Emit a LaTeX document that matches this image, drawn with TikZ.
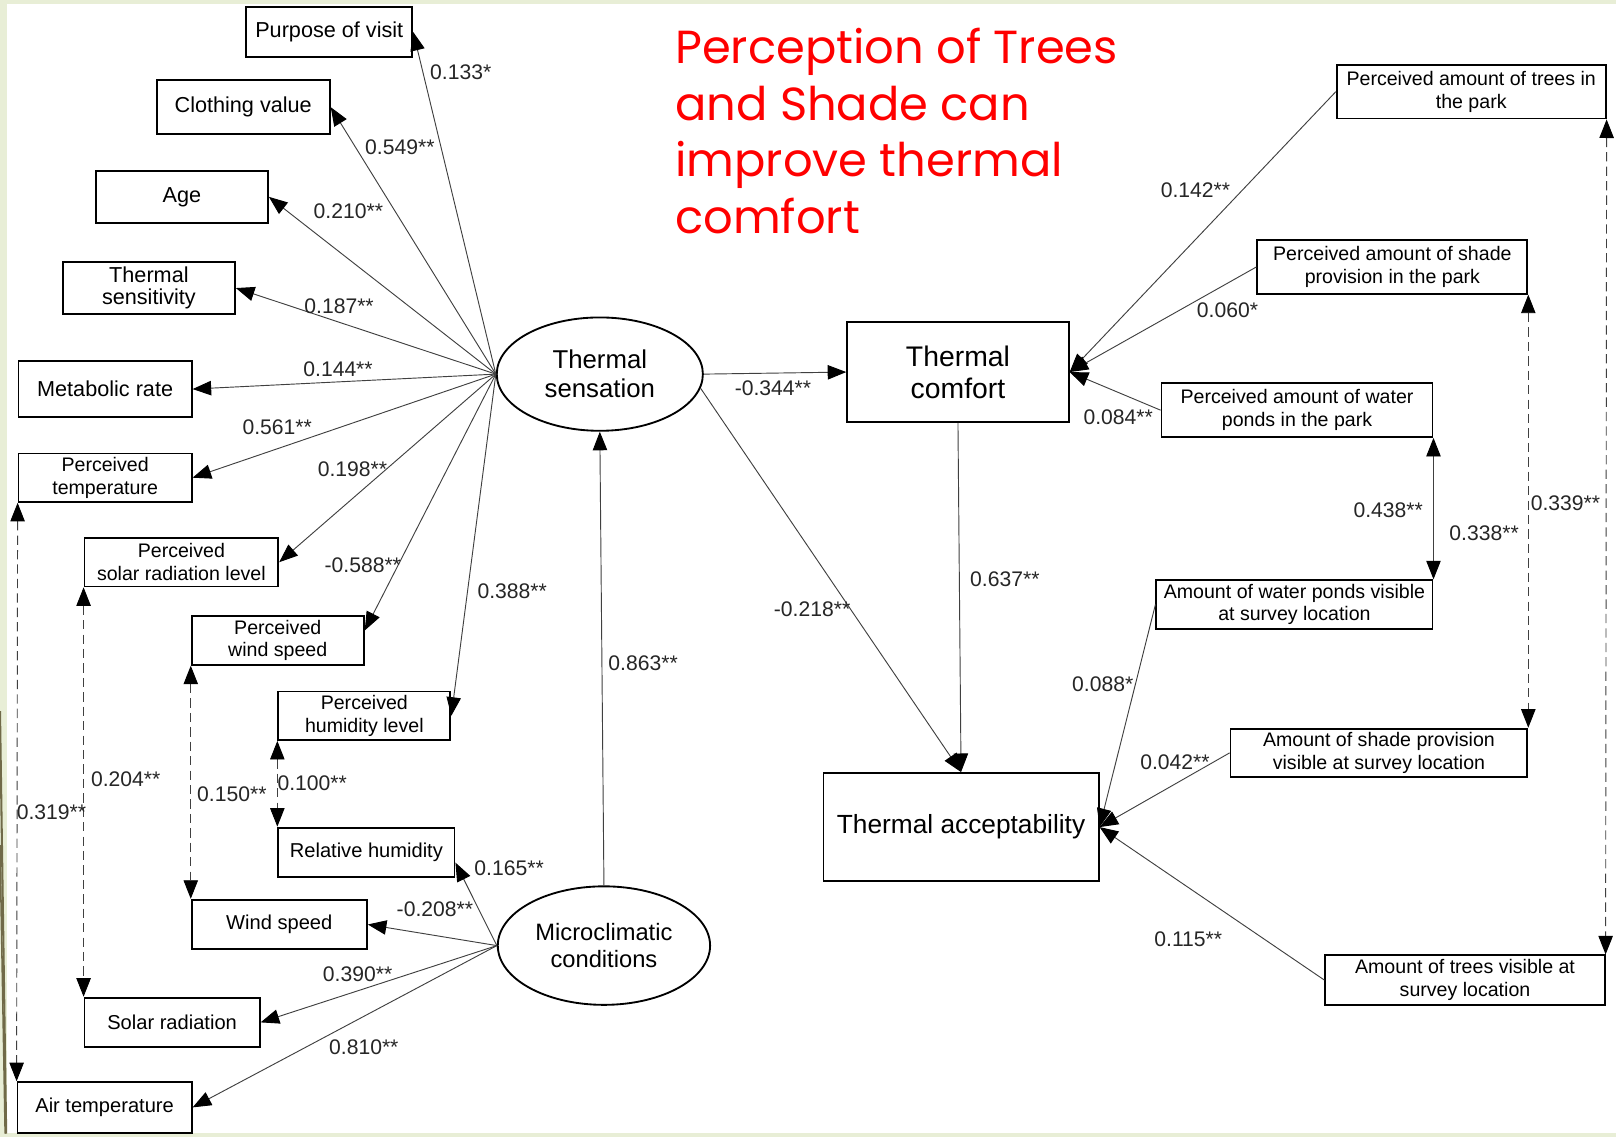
\documentclass[tikz,border=0pt]{standalone}
\usepackage{fontspec}
\setmainfont{Liberation Sans}
\newfontfamily\titlefont{Poppins}
\usetikzlibrary{arrows.meta,calc,shapes.geometric}

\definecolor{slidegreen}{RGB}{232,238,214}
\definecolor{slideolive}{RGB}{112,106,72}

\tikzset{
  box/.style={draw, line width=1.8pt, inner sep=2pt, align=center, font=\fontsize{21}{24}\selectfont},
  pbox/.style={box, font=\fontsize{19}{22}\selectfont},
  latent/.style={draw, ellipse, line width=1.8pt, inner sep=0pt, align=center},
  effect/.style={-{Triangle[length=18pt,width=14pt,color=black]}, line width=0.9pt, draw=black!75},
  covar/.style={{Triangle[length=18pt,width=14pt,color=black]}-{Triangle[length=18pt,width=14pt,color=black]}, line width=0.9pt, draw=black!75, dash pattern=on 9pt off 5pt},
  coef/.style={font=\fontsize{20.5}{24}\selectfont, text=black!85, inner sep=0pt},
}

\begin{document}
\begin{tikzpicture}[x=1pt,y=-1pt]
   \useasboundingbox (0,0) rectangle (1568,1103);
   % slide background
   \fill[slidegreen] (0,0) rectangle (1568,1103);
   \fill[white] (7,4) rectangle (1568,1099);
   \draw[slideolive, line width=2pt] (0,690) -- (6,1100);
   \draw[slideolive, line width=1.5pt] (0,820) -- (5,1100);

   % title
   \node[anchor=north west, inner sep=0pt, align=left, text=red,
         font=\titlefont\fontsize{45}{55}\selectfont] (title) at (655,27)
         {Perception of Trees\\and Shade can\\improve thermal\\comfort};

   % personal and perceived variables
   \node[box, minimum width=161pt, minimum height=48pt] (visit) at (319.5,31) {Purpose of visit};
   \node[box, minimum width=168pt, minimum height=52pt] (cloth) at (236,104) {Clothing value};
   \node[box, minimum width=167pt, minimum height=50pt] (age) at (176.5,191) {Age};
   \node[box, minimum width=167pt, minimum height=51pt] (sensit) at (144.5,279.5) {Thermal\\[-2pt]sensitivity};
   \node[box, minimum width=168pt, minimum height=55pt] (metab) at (102,377.5) {Metabolic rate};
   \node[pbox, minimum width=168pt, minimum height=47pt] (ptemp) at (102,463.5) {Perceived\\temperature};
   \node[pbox, minimum width=188pt, minimum height=47pt] (psolar) at (176,545.5) {Perceived\\solar radiation level};
   \node[pbox, minimum width=167pt, minimum height=47pt] (pwind) at (269.5,621.5) {Perceived\\wind speed};
   \node[pbox, minimum width=167pt, minimum height=47pt] (phumid) at (353.5,694.5) {Perceived\\humidity level};

   % measured microclimate
   \node[box, font=\fontsize{19.5}{22}\selectfont, minimum width=171pt, minimum height=48pt] (relhum) at (355.5,827) {Relative humidity};
   \node[box, font=\fontsize{19.5}{22}\selectfont, minimum width=170pt, minimum height=48pt] (wind) at (271,897) {Wind speed};
   \node[box, font=\fontsize{19.5}{22}\selectfont, minimum width=170pt, minimum height=48pt] (solar) at (167,992) {Solar radiation};
   \node[box, font=\fontsize{19.5}{22}\selectfont, minimum width=169pt, minimum height=49pt] (airt) at (101.5,1074.5) {Air temperature};

   % latent and outcome variables
   \node[latent, minimum width=200pt, minimum height=110pt, font=\fontsize{25}{28}\selectfont] (tsens) at (582,363) {Thermal\\sensation};
   \node[latent, minimum width=206pt, minimum height=115pt, font=\fontsize{23}{26}\selectfont] (micro) at (586,917.5) {Microclimatic\\conditions};
   \node[box, minimum width=215pt, minimum height=97pt, font=\fontsize{27.5}{31}\selectfont] (tcomf) at (929.5,361) {Thermal\\comfort};
   \node[box, minimum width=267pt, minimum height=105pt, font=\fontsize{25.5}{28}\selectfont] (taccp) at (932.5,802.5) {Thermal acceptability};

   % park and site variables
   \node[pbox, minimum width=261pt, minimum height=52pt] (ptrees) at (1427.5,89) {Perceived amount of trees in\\the park};
   \node[pbox, minimum width=262pt, minimum height=52pt] (pshade) at (1351,259) {Perceived amount of shade\\provision in the park};
   \node[pbox, minimum width=263pt, minimum height=52pt] (pponds) at (1258.5,398) {Perceived amount of water\\ponds in the park};
   \node[pbox, minimum width=268pt, minimum height=47pt] (vponds) at (1256,586.5) {Amount of water ponds visible\\at survey location};
   \node[pbox, minimum width=288pt, minimum height=47pt] (vshade) at (1338,730.5) {Amount of shade provision\\visible at survey location};
   \node[pbox, minimum width=271pt, minimum height=48pt] (vtrees) at (1421.5,951) {Amount of trees visible at\\survey location};

   % paths from thermal sensation
   \draw[effect] (tsens.west) -- (visit.east);
   \draw[effect] (tsens.west) -- (cloth.east);
   \draw[effect] (tsens.west) -- (age.east);
   \draw[effect] (tsens.west) -- (sensit.east);
   \draw[effect] (tsens.west) -- (metab.east);
   \draw[effect] (tsens.west) -- (ptemp.east);
   \draw[effect] (tsens.west) -- (psolar.east);
   \draw[effect] (tsens.west) -- ($(pwind.north east)!0.3!(pwind.south east)$);
   \draw[effect] (tsens.west) -- (phumid.east);
   \draw[effect] (tsens.east) -- (tcomf.west);
   \draw[effect] (tsens.-8) -- (taccp.north);
   \draw[effect] (tcomf.south) -- (taccp.north);

   % paths from microclimatic conditions
   \draw[effect] (micro.north) -- (tsens.south);
   \draw[effect] (micro.west) -- ($(relhum.north east)!0.7!(relhum.south east)$);
   \draw[effect] (micro.west) -- (wind.east);
   \draw[effect] (micro.west) -- (solar.east);
   \draw[effect] (micro.west) -- (airt.east);

   % paths into comfort and acceptability
   \draw[effect] (ptrees.west) -- (tcomf.east);
   \draw[effect] (pshade.west) -- (tcomf.east);
   \draw[effect] (pponds.west) -- (tcomf.east);
   \draw[effect] (vponds.west) -- (taccp.east);
   \draw[effect] (vshade.west) -- (taccp.east);
   \draw[effect] (vtrees.west) -- (taccp.east);

   % correlations
   \draw[covar] (ptemp.south west) -- (airt.north west);
   \draw[covar] (psolar.south west) -- (solar.north west);
   \draw[covar] (pwind.south west) -- (wind.north west);
   \draw[covar] (phumid.south west) -- (relhum.north west);
   \draw[covar, solid] (pponds.south east) -- (vponds.north east);
   \draw[covar] (pshade.south east) -- (vshade.north east);
   \draw[covar] (ptrees.south east) -- (vtrees.north east);

   % coefficients
   \node[coef] at (447,70) {0.133*};
   \node[coef] at (388,143) {0.549**};
   \node[coef] at (338,205) {0.210**};
   \node[coef] at (329,297) {0.187**};
   \node[coef] at (328,358) {0.144**};
   \node[coef] at (269,415) {0.561**};
   \node[coef] at (342,455) {0.198**};
   \node[coef] at (352,548) {-0.588**};
   \node[coef] at (497,574) {0.388**};
   \node[coef] at (624,644) {0.863**};
   \node[coef] at (750,377) {-0.344**};
   \node[coef] at (788,591) {-0.218**};
   \node[coef] at (975,562) {0.637**};
   \node[coef] at (1160,185) {0.142**};
   \node[coef] at (1191,301) {0.060*};
   \node[coef] at (1085,405) {0.084**};
   \node[coef] at (1347,495) {0.438**};
   \node[coef] at (1440,517) {0.338**};
   \node[coef] at (1519,488) {0.339**};
   \node[coef] at (1070,664) {0.088*};
   \node[coef] at (1140,740) {0.042**};
   \node[coef] at (1153,911) {0.115**};
   \node[coef] at (494,842) {0.165**};
   \node[coef] at (422,882) {-0.208**};
   \node[coef] at (347,945) {0.390**};
   \node[coef] at (353,1016) {0.810**};
   \node[coef] at (50,788) {0.319**};
   \node[coef] at (122,756) {0.204**};
   \node[coef] at (225,771) {0.150**};
   \node[coef] at (303,760) {0.100**};
\end{tikzpicture}
\end{document}
